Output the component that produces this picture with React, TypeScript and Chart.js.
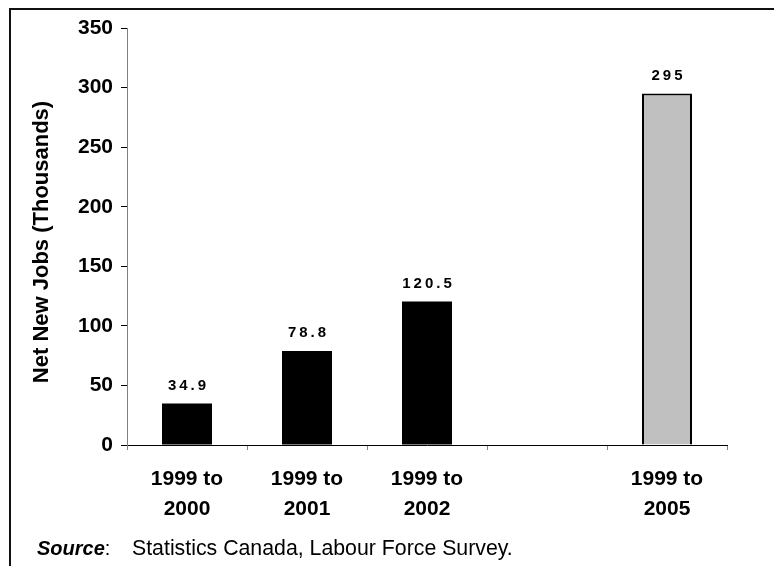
import React, { useEffect, useRef } from "react";
import { Chart, registerables } from "chart.js";

Chart.register(...registerables);

const categories: (string | string[])[] = [
  ["1999 to", "2000"],
  ["1999 to", "2001"],
  ["1999 to", "2002"],
  "",
  ["1999 to", "2005"],
];
const netNewJobs: (number | null)[] = [34.9, 78.8, 120.5, null, 295];
const valueLabels: string[] = ["34.9", "78.8", "120.5", "", "295"];
const barFills: string[] = ["#000000", "#000000", "#000000", "#000000", "#c0c0c0"];
const yTicks: number[] = [0, 50, 100, 150, 200, 250, 300, 350];

const FONT = "'Liberation Sans', Arial, Helvetica, sans-serif";

// Draws the value labels, axis title, source note and the outer frame.
const decorations = {
  id: "decorations",
  afterDraw(chart: Chart) {
    const ctx = chart.ctx;
    ctx.save();

    // value labels above each bar, with spaced-out digits
    const meta = chart.getDatasetMeta(0);
    ctx.font = `bold 15px ${FONT}`;
    ctx.fillStyle = "#000";
    ctx.textBaseline = "middle";
    ctx.textAlign = "left";
    const spacing = 3;
    meta.data.forEach((el: any, i: number) => {
      const text = valueLabels[i];
      if (!text || netNewJobs[i] == null) return;
      const chars = text.split("");
      const widths = chars.map((c) => ctx.measureText(c).width);
      const total = widths.reduce((a, b) => a + b, 0) + spacing * (chars.length - 1);
      let x = el.x - total / 2;
      const y = el.y - 18;
      chars.forEach((c, k) => {
        ctx.fillText(c, x, y);
        x += widths[k] + spacing;
      });
    });

    // y axis title
    ctx.save();
    ctx.translate(42, 242);
    ctx.rotate(-Math.PI / 2);
    ctx.font = `bold 22px ${FONT}`;
    ctx.textAlign = "center";
    ctx.textBaseline = "middle";
    ctx.fillText("Net New Jobs (Thousands)", 0, 0);
    ctx.restore();

    // source note
    ctx.textBaseline = "alphabetic";
    ctx.textAlign = "left";
    ctx.font = `italic bold 20px ${FONT}`;
    ctx.fillText("Source", 37, 555);
    const sw = ctx.measureText("Source").width;
    ctx.font = `20px ${FONT}`;
    ctx.fillText(":", 37 + sw, 555);
    ctx.font = `21.3px ${FONT}`;
    ctx.fillText("Statistics Canada, Labour Force Survey.", 132, 555);

    // frame along the top and left edges
    ctx.strokeStyle = "#111";
    ctx.lineWidth = 2;
    ctx.beginPath();
    ctx.moveTo(774, 9);
    ctx.lineTo(10, 9);
    ctx.lineTo(10, 566);
    ctx.stroke();

    ctx.restore();
  },
};

export default function App() {
  const canvasRef = useRef<HTMLCanvasElement | null>(null);

  useEffect(() => {
    const canvas = canvasRef.current;
    if (!canvas) return;
    const chart = new Chart(canvas, {
      type: "bar",
      data: {
        labels: categories,
        datasets: [
          {
            data: netNewJobs,
            backgroundColor: barFills,
            borderColor: "#000000",
            borderWidth: [0, 0, 0, 0, 2],
            categoryPercentage: 1,
            barPercentage: 50 / 120,
          },
        ],
      },
      options: {
        animation: false,
        responsive: false,
        maintainAspectRatio: false,
        layout: { padding: { left: 0, top: 28, right: 47, bottom: 0 } },
        plugins: {
          legend: { display: false },
          tooltip: { enabled: false },
          title: { display: false },
        },
        scales: {
          x: {
            afterFit(scale: any) {
              scale.height = 121;
            },
            grid: {
              drawOnChartArea: false,
              drawTicks: true,
              tickLength: 5,
              tickColor: "#808080",
              offset: true,
            },
            border: { color: "#000000", width: 1 },
            ticks: {
              color: "#000",
              padding: 14,
              maxRotation: 0,
              autoSkip: false,
              font: { family: FONT, size: 21, weight: "bold", lineHeight: 30 / 21 },
            },
          },
          y: {
            min: 0,
            max: 350,
            afterFit(scale: any) {
              scale.width = 127;
            },
            afterBuildTicks(scale: any) {
              scale.ticks = yTicks.map((v) => ({ value: v }));
            },
            grid: {
              drawOnChartArea: false,
              drawTicks: true,
              tickLength: 6,
              tickColor: "#000000",
            },
            border: { color: "#808080", width: 1 },
            ticks: {
              color: "#000",
              padding: 8,
              font: { family: FONT, size: 21, weight: "bold" },
            },
          },
        },
      },
      plugins: [decorations],
    } as any);
    return () => chart.destroy();
  }, []);

  return (
    <div style={{ position: "absolute", left: 0, top: 0, width: 774, height: 566, background: "#fff" }}>
      <canvas ref={canvasRef} width={774} height={566} />
    </div>
  );
}
